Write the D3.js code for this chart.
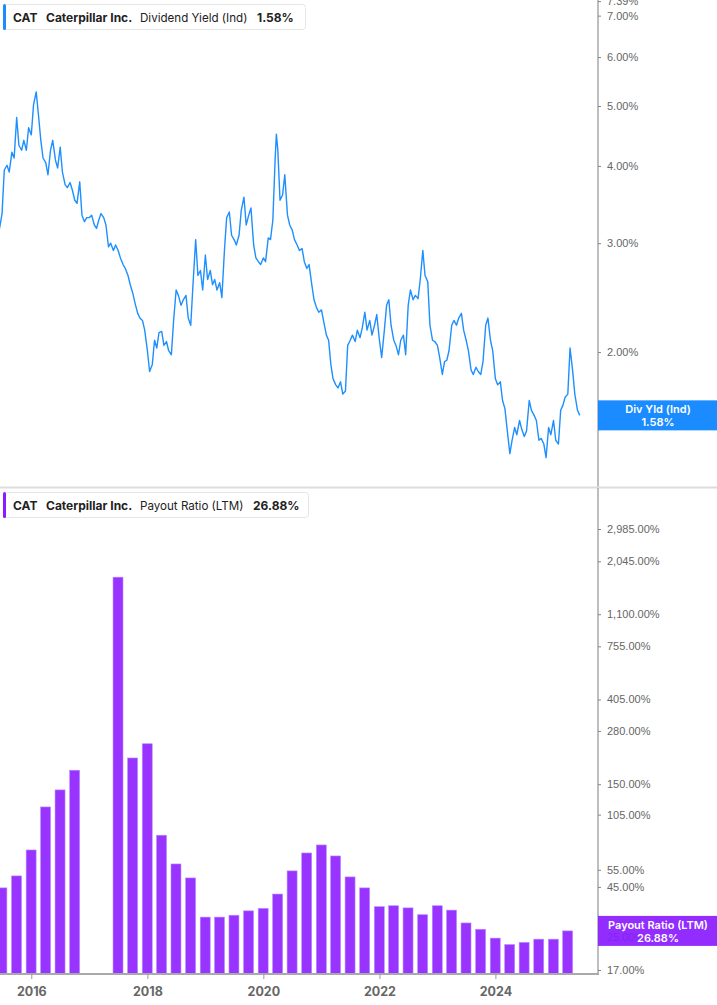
<!DOCTYPE html>
<html><head><meta charset="utf-8">
<script src="https://cdn.jsdelivr.net/npm/d3@7"></script>
<style>html,body{margin:0;padding:0;background:#fff;}svg{display:block;}</style>
</head><body><svg id="c" width="717" height="1005"></svg>
<script>
const yieldDates = [
"2015-06-15","2015-07-01","2015-07-15","2015-08-01","2015-08-15","2015-09-01","2015-09-15","2015-10-01","2015-10-15","2015-11-01","2015-11-15","2015-12-01","2015-12-15",
"2016-01-01","2016-01-15","2016-02-01","2016-02-15","2016-03-01","2016-03-15","2016-04-01","2016-04-15","2016-05-01","2016-05-15","2016-06-01","2016-06-15","2016-07-01","2016-07-15","2016-08-01","2016-08-15","2016-09-01","2016-09-15","2016-10-01","2016-10-15","2016-11-01","2016-11-15","2016-12-01","2016-12-15",
"2017-01-01","2017-01-15","2017-02-01","2017-02-15","2017-03-01","2017-03-15","2017-04-01","2017-04-15","2017-05-01","2017-05-15","2017-06-01","2017-06-15","2017-07-01","2017-07-15","2017-08-01","2017-08-15","2017-09-01","2017-09-15","2017-10-01","2017-10-15","2017-11-01","2017-11-15","2017-12-01","2017-12-15",
"2018-01-01","2018-01-15","2018-02-01","2018-02-15","2018-03-01","2018-03-15","2018-04-01","2018-04-15","2018-05-01","2018-05-15","2018-06-01","2018-06-15","2018-07-01","2018-07-15","2018-08-01","2018-08-15","2018-09-01","2018-09-15","2018-10-01","2018-10-15","2018-11-01","2018-11-15","2018-12-01","2018-12-15",
"2019-01-01","2019-01-15","2019-02-01","2019-02-15","2019-03-01","2019-03-15","2019-04-01","2019-04-15","2019-05-01","2019-05-15","2019-06-01","2019-06-15","2019-07-01","2019-07-15","2019-08-01","2019-08-15","2019-09-01","2019-09-15","2019-10-01","2019-10-15","2019-11-01","2019-11-15","2019-12-01","2019-12-15",
"2020-01-01","2020-01-15","2020-02-01","2020-02-15","2020-03-01","2020-03-15","2020-03-23","2020-04-01","2020-04-15","2020-05-01","2020-05-15","2020-06-01","2020-06-15","2020-07-01","2020-07-15","2020-08-01","2020-08-15","2020-09-01","2020-09-15","2020-10-01","2020-10-15","2020-11-01","2020-11-15","2020-12-01","2020-12-15",
"2021-01-01","2021-01-15","2021-02-01","2021-02-15","2021-03-01","2021-03-15","2021-04-01","2021-04-15","2021-05-01","2021-05-15","2021-06-01","2021-06-15","2021-07-01","2021-07-15","2021-08-01","2021-08-15","2021-09-01","2021-09-15","2021-10-01","2021-10-15","2021-11-01","2021-11-15","2021-12-01","2021-12-15",
"2022-01-01","2022-01-15","2022-02-01","2022-02-15","2022-03-01","2022-03-15","2022-04-01","2022-04-15","2022-05-01","2022-05-15","2022-06-01","2022-06-15","2022-07-01","2022-07-15","2022-08-01","2022-08-15","2022-09-01","2022-09-15","2022-10-01","2022-10-15","2022-11-01","2022-11-15","2022-12-01","2022-12-15",
"2023-01-01","2023-01-15","2023-02-01","2023-02-15","2023-03-01","2023-03-15","2023-04-01","2023-04-15","2023-05-01","2023-05-15","2023-06-01","2023-06-15","2023-07-01","2023-07-15","2023-08-01","2023-08-15","2023-09-01","2023-09-15","2023-10-01","2023-10-15","2023-11-01","2023-11-15","2023-12-01","2023-12-15",
"2024-01-01","2024-01-15","2024-02-01","2024-02-15","2024-03-01","2024-03-15","2024-04-01","2024-04-15","2024-05-01","2024-05-15","2024-06-01","2024-06-15","2024-07-01","2024-07-15","2024-08-01","2024-08-15","2024-09-01","2024-09-15","2024-10-01","2024-10-15","2024-11-01","2024-11-15","2024-12-01","2024-12-15",
"2025-01-01","2025-01-15","2025-02-01","2025-02-15","2025-03-01","2025-03-15","2025-04-01","2025-04-15","2025-05-01","2025-05-15","2025-06-01","2025-06-15"
];
const yieldValues = [
3.17,3.35,3.94,4.01,3.91,4.21,4.12,4.79,4.32,4.24,4.40,4.24,4.61,
4.49,5.02,5.27,4.84,4.40,4.12,4.05,3.87,4.24,4.40,4.09,3.97,4.29,3.91,3.73,3.69,3.76,3.66,3.52,3.48,3.77,3.33,3.25,3.30,
3.30,3.33,3.21,3.17,3.27,3.35,3.30,3.21,2.96,3.00,2.92,2.98,2.92,2.84,2.77,2.73,2.66,2.57,2.49,2.40,2.31,2.27,2.25,2.17,
2.01,1.86,1.91,2.09,2.03,2.15,2.16,2.05,2.08,2.01,1.98,2.25,2.52,2.47,2.38,2.43,2.47,2.27,2.21,2.57,3.04,2.66,2.71,2.52,
2.87,2.62,2.71,2.57,2.62,2.52,2.59,2.45,2.92,3.30,3.37,3.09,3.04,2.98,3.09,3.39,3.56,3.21,3.33,3.42,2.98,2.84,2.80,2.77,
2.84,2.80,3.06,3.04,3.27,4.09,4.50,4.25,3.52,3.59,3.87,3.33,3.21,3.15,3.04,2.98,2.92,2.94,2.80,2.73,2.77,2.57,2.43,2.36,2.32,
2.34,2.24,2.13,2.09,1.91,1.81,1.77,1.75,1.79,1.71,1.73,2.05,2.09,2.13,2.08,2.17,2.11,2.19,2.32,2.17,2.25,2.13,2.21,2.30,
2.09,1.96,2.17,2.38,2.43,2.21,2.09,2.05,1.98,2.09,2.13,1.98,2.38,2.52,2.43,2.47,2.44,2.62,2.92,2.66,2.60,2.21,2.09,2.08,
2.05,1.96,1.84,1.93,1.94,2.01,2.21,2.25,2.21,2.27,2.31,2.17,2.09,2.01,1.87,1.84,1.89,1.86,1.84,1.93,2.21,2.27,2.09,2.01,
1.81,1.77,1.79,1.67,1.62,1.50,1.37,1.44,1.51,1.47,1.55,1.50,1.46,1.49,1.67,1.61,1.58,1.55,1.44,1.45,1.42,1.35,1.51,1.47,
1.55,1.44,1.42,1.61,1.64,1.69,1.71,2.03,1.87,1.71,1.61,1.58
];
const payoutDates = [
"2015-06-30","2015-09-30","2015-12-31","2016-03-31","2016-06-30","2016-09-30","2016-12-31","2017-03-31","2017-06-30","2017-09-30","2017-12-31",
"2018-03-31","2018-06-30","2018-09-30","2018-12-31","2019-03-31","2019-06-30","2019-09-30","2019-12-31",
"2020-03-31","2020-06-30","2020-09-30","2020-12-31","2021-03-31","2021-06-30","2021-09-30","2021-12-31",
"2022-03-31","2022-06-30","2022-09-30","2022-12-31","2023-03-31","2023-06-30","2023-09-30","2023-12-31",
"2024-03-31","2024-06-30","2024-09-30","2024-12-31","2025-03-31"
];
const payoutValues = [
44.5,51.2,69.4,114.9,140.3,176.7,null,null,1698,204,241,
82.5,58.9,50.0,31.6,31.6,32.3,34.0,35.0,
41.4,54.3,67.0,73.6,64.7,50.6,44.5,35.7,
36.1,35.2,32.5,36.1,34.3,29.5,27.4,24.7,
22.9,23.5,24.4,24.4,26.88
];
const yieldTicks = [7.39, 7.00, 6.00, 5.00, 4.00, 3.00, 2.00];
const payoutTicks = [2985, 2045, 1100, 755, 405, 280, 150, 105, 55, 45, 25, 17];
const yearTicks = ["2016-01-01","2018-01-01","2020-01-01","2022-01-01","2024-01-01"];
const lastYield = 1.58, lastPayout = 26.88;

const parse = d3.utcParse("%Y-%m-%d");
const svg = d3.select("#c");
const W = 717, plotR = 598;
const x = d3.scaleUtc().domain([parse("2015-06-18"), parse("2025-10-08")]).range([0, plotR]);
const yTop = d3.scaleLog().domain([1.21, 7.42]).range([487, 0]);
const yBot = d3.scaleLog().domain([16.22, 4828]).range([974, 488]);

const axisColor = "#a9a9a9", labelColor = "#666";
const fmtPct = v => d3.format(",.2f")(v) + "%";

const defs = svg.append("defs");
defs.append("clipPath").attr("id","clipTop").append("rect").attr("x",0).attr("y",0).attr("width",plotR).attr("height",487);
defs.append("clipPath").attr("id","clipBot").append("rect").attr("x",0).attr("y",488).attr("width",plotR).attr("height",486);

// ---- Top panel: dividend yield line
const yData = yieldDates.map((d,i)=>({d:parse(d), v:yieldValues[i]}));
svg.append("path").datum(yData)
  .attr("clip-path","url(#clipTop)")
  .attr("fill","none").attr("stroke","#1e8fff").attr("stroke-width",1.4).attr("stroke-linejoin","round")
  .attr("d", d3.line().x(d=>x(d.d)).y(d=>yTop(d.v)));

const gTopAxis = svg.append("g").attr("transform",`translate(${plotR},0)`)
  .call(d3.axisRight(yTop).tickValues(yieldTicks).tickSize(3).tickPadding(6).tickFormat(fmtPct));
gTopAxis.select(".domain").attr("stroke",axisColor).attr("stroke-width",1.5).attr("d","M0,0V487");
gTopAxis.selectAll(".tick line").attr("stroke","#888");
gTopAxis.selectAll(".tick text").attr("fill",labelColor).style("font-family","Liberation Sans, Arial, sans-serif").style("font-size","11px");

svg.append("line").attr("x1",0).attr("x2",W).attr("y1",487.5).attr("y2",487.5).attr("stroke","#dcdcdc").attr("stroke-width",2);

// ---- Bottom panel: payout bars
const bData = payoutDates.map((d,i)=>({d:parse(d), v:payoutValues[i]})).filter(d=>d.v!=null);
const qW = x(parse("2016-03-31")) - x(parse("2015-12-31"));
const bw = qW*0.69;
svg.append("g").attr("clip-path","url(#clipBot)").selectAll("rect").data(bData).join("rect")
  .attr("x", d=>x(d.d)-bw/2).attr("width", bw)
  .attr("y", d=>yBot(d.v)).attr("height", d=>974 - yBot(d.v))
  .attr("fill","#9933ff").attr("stroke","#b68cff").attr("stroke-width",0.6);

const gBotAxis = svg.append("g").attr("transform",`translate(${plotR},0)`)
  .call(d3.axisRight(yBot).tickValues(payoutTicks).tickSize(3).tickPadding(6).tickFormat(fmtPct));
gBotAxis.select(".domain").attr("stroke",axisColor).attr("stroke-width",1.5).attr("d","M0,488V975");
gBotAxis.selectAll(".tick line").attr("stroke","#888");
gBotAxis.selectAll(".tick text").attr("fill",labelColor).style("font-family","Liberation Sans, Arial, sans-serif").style("font-size","11px");

const gX = svg.append("g").attr("transform","translate(0,974)")
  .call(d3.axisBottom(x).tickValues(yearTicks.map(parse)).tickSize(5).tickPadding(8).tickFormat(d3.utcFormat("%Y")));
gX.select(".domain").attr("stroke",axisColor).attr("stroke-width",2).attr("d",`M0,0H${plotR+1}`);
gX.selectAll(".tick line").attr("stroke","#999");
gX.selectAll(".tick text").attr("fill","#666").style("font-family","Inter, Roboto, sans-serif").style("font-size","12.5px").style("font-weight","700");

function valueBox(yc, color, line1, line2, opacity){
  const h = 30;
  svg.append("rect").attr("x",plotR).attr("y",yc-h/2).attr("width",W-plotR).attr("height",h).attr("fill",color).attr("opacity",opacity);
  const t = svg.append("text").attr("text-anchor","middle").attr("fill","#fff")
    .style("font-family","Inter, Roboto, sans-serif").style("font-size","11px").style("font-weight","600");
  t.append("tspan").attr("x",(plotR+W)/2+0.5).attr("y",yc-2).text(line1);
  t.append("tspan").attr("x",(plotR+W)/2+0.5).attr("y",yc+11).text(line2);
}
valueBox(yTop(lastYield), "#1a8cff", "Div Yld (Ind)", fmtPct(lastYield), 1);
valueBox(yBot(lastPayout), "#8a1cff", "Payout Ratio (LTM)", fmtPct(lastPayout), 0.93);

function legend(y0, color, metric, val, valX, boxW){
  svg.append("rect").attr("x",3.5).attr("y",y0+0.5).attr("width",boxW).attr("height",25).attr("rx",3)
    .attr("fill","#fff").attr("stroke","#e6e6e6");
  svg.append("rect").attr("x",3).attr("y",y0).attr("width",3).attr("height",26).attr("rx",1.5).attr("fill",color);
  const g = svg.append("g").style("font-family","Inter, Roboto, sans-serif").attr("fill","#222");
  const by = y0+17.5;
  g.append("text").attr("x",13).attr("y",by).style("font-size","12px").style("font-weight","700").text("CAT");
  g.append("text").attr("x",46).attr("y",by).style("font-size","12px").style("font-weight","700").text("Caterpillar Inc.");
  g.append("text").attr("x",140).attr("y",by).style("font-size","11.6px").style("font-weight","400").text(metric);
  g.append("text").attr("x",valX).attr("y",by).style("font-size","12px").style("font-weight","700").text(val);
}
legend(4, "#1a8cff", "Dividend Yield (Ind)", fmtPct(lastYield), 257, 302);
legend(492, "#8a1cff", "Payout Ratio (LTM)", fmtPct(lastPayout), 253, 305);
</script></body></html>
